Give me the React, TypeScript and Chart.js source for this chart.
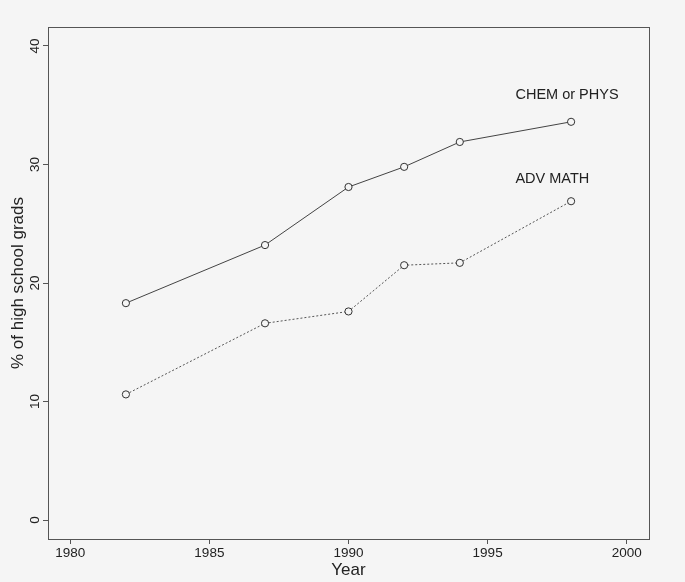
import React, { useEffect, useRef } from "react";
import { Chart, registerables } from "chart.js";

Chart.register(...registerables);

const years = [1982, 1987, 1990, 1992, 1994, 1998];
const chemPhys = [18.3, 23.2, 28.1, 29.8, 31.9, 33.6];
const advMath = [10.6, 16.6, 17.6, 21.5, 21.7, 26.9];
const xTickValues = [1980, 1985, 1990, 1995, 2000];
const yTickValues = [0, 10, 20, 30, 40];
const seriesNames = ["CHEM or PHYS", "ADV MATH"];
const seriesLabelYears = [1996, 1996];
const seriesLabelValues = [35.85, 28.8];

const BG = "#f5f5f5";
const INK = "#222222";
const FONT = "'Liberation Sans', Arial, Helvetica, sans-serif";

export default function App() {
  const ref = useRef<HTMLCanvasElement | null>(null);

  useEffect(() => {
    document.body.style.margin = "0";
    document.body.style.background = BG;
    const canvas = ref.current!;
    const decor = {
      id: "decor",
      beforeDraw(chart: any) {
        const { ctx, width, height } = chart;
        ctx.save();
        ctx.fillStyle = BG;
        ctx.fillRect(0, 0, width, height);
        ctx.restore();
      },
      afterDraw(chart: any) {
        const { ctx, chartArea } = chart;
        const xs = chart.scales.x;
        const ys = chart.scales.y;
        ctx.save();
        // box
        ctx.strokeStyle = "#555";
        ctx.lineWidth = 1;
        ctx.strokeRect(
          Math.round(chartArea.left) + 0.5,
          Math.round(chartArea.top) + 0.5,
          Math.round(chartArea.right - chartArea.left),
          Math.round(chartArea.bottom - chartArea.top)
        );
        // y tick labels, rotated
        ctx.fillStyle = INK;
        ctx.font = `13.5px ${FONT}`;
        ctx.textAlign = "center";
        ctx.textBaseline = "middle";
        ys.ticks.forEach((t: any) => {
          const y = ys.getPixelForValue(t.value);
          ctx.save();
          ctx.translate(35, y);
          ctx.rotate(-Math.PI / 2);
          ctx.fillText(String(t.value), 0, 0);
          ctx.restore();
        });
        // series labels
        ctx.font = `14.5px ${FONT}`;
        ctx.textAlign = "left";
        seriesNames.forEach((name, i) => {
          ctx.fillText(
            name,
            xs.getPixelForValue(seriesLabelYears[i]),
            ys.getPixelForValue(seriesLabelValues[i])
          );
        });
        ctx.restore();
      },
    };

    const chart = new Chart(canvas, {
      type: "line",
      data: {
        datasets: [
          {
            label: seriesNames[0],
            data: years.map((y, i) => ({ x: y, y: chemPhys[i] })),
            borderColor: "#444",
            borderWidth: 1,
            pointRadius: 3.6,
            pointBorderWidth: 1,
            pointBorderColor: "#333",
            pointBackgroundColor: BG,
            tension: 0,
          },
          {
            label: seriesNames[1],
            data: years.map((y, i) => ({ x: y, y: advMath[i] })),
            borderColor: "#555",
            borderWidth: 1,
            borderDash: [2, 2],
            pointRadius: 3.6,
            pointBorderWidth: 1,
            pointBorderColor: "#333",
            pointBackgroundColor: BG,
            tension: 0,
          },
        ],
      },
      options: {
        responsive: false,
        animation: false,
        layout: { padding: { top: 27, right: 36, left: 0, bottom: 0 } },
        plugins: { legend: { display: false }, tooltip: { enabled: false } },
        scales: {
          x: {
            type: "linear",
            min: 1979.2,
            max: 2000.8,
            afterBuildTicks: (s: any) => {
              s.ticks = xTickValues.map((v) => ({ value: v }));
            },
            afterFit: (s: any) => {
              s.height = 43;
            },
            border: { display: false },
            grid: {
              display: true,
              drawOnChartArea: false,
              drawTicks: true,
              tickLength: 5,
              color: "#555",
            },
            ticks: {
              color: INK,
              font: { family: FONT, size: 13.5 },
              padding: 1,
              maxRotation: 0,
              autoSkip: false,
              callback: (v: any) => String(v),
            },
            title: {
              display: true,
              text: "Year",
              color: INK,
              font: { family: FONT, size: 17 },
              padding: { top: 0, bottom: 1 },
            },
          },
          y: {
            type: "linear",
            min: -1.6,
            max: 41.6,
            afterBuildTicks: (s: any) => {
              s.ticks = yTickValues.map((v) => ({ value: v }));
            },
            afterFit: (s: any) => {
              s.width = 48;
            },
            border: { display: false },
            grid: {
              display: true,
              drawOnChartArea: false,
              drawTicks: true,
              tickLength: 5,
              color: "#555",
            },
            ticks: { display: false },
            title: {
              display: true,
              text: "% of high school grads",
              color: INK,
              font: { family: FONT, size: 17 },
              padding: { top: 8.5, bottom: 0 },
            },
          },
        },
      },
      plugins: [decor],
    });
    return () => chart.destroy();
  }, []);

  return (
    <div style={{ position: "fixed", left: 0, top: 0, width: 685, height: 582, background: BG }}>
      <canvas ref={ref} width={685} height={582} style={{ display: "block" }} />
    </div>
  );
}
